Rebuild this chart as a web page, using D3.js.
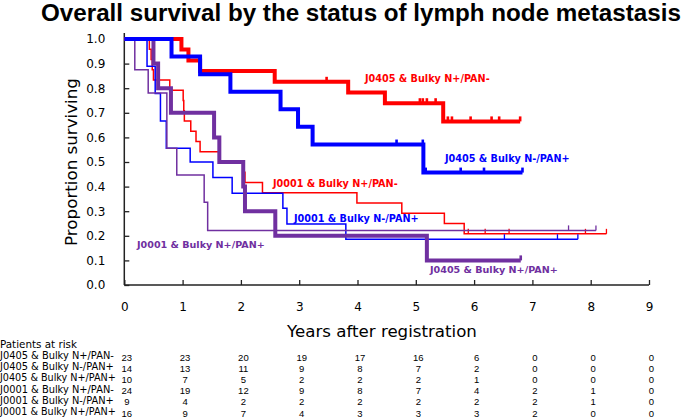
<!DOCTYPE html>
<html>
<head>
<meta charset="utf-8">
<script src="https://cdn.jsdelivr.net/npm/d3@7/dist/d3.min.js"></script>
<style>
  html, body { margin: 0; padding: 0; background: #fff; }
  svg { display: block; }
</style>
</head>
<body>
<svg id="chart" width="685" height="419"></svg>
<script>
// ---------------- DATA ----------------
const titleText = "Overall survival by the status of lymph node metastasis";
const yTicks = [0, 0.1, 0.2, 0.3, 0.4, 0.5, 0.6, 0.7, 0.8, 0.9, 1.0];
const xTicks = [0, 1, 2, 3, 4, 5, 6, 7, 8, 9];

// J0405 & Bulky N+/PAN- (red, thick)
const aTimes = [0.98, 1.10, 1.30, 2.58, 3.84, 4.47, 5.47];
const aSurv  = [0.957, 0.913, 0.870, 0.826, 0.783, 0.739, 0.665];
const aCens  = [3.47, 5.07, 5.12, 5.19, 5.34, 5.55, 5.62, 5.94, 6.30, 6.43, 6.79];
const aEnd   = 6.79;

// J0405 & Bulky N-/PAN+ (blue, thick)
const bTimes = [0.81, 1.30, 1.82, 2.68, 2.98, 3.23, 5.13];
const bSurv  = [0.929, 0.857, 0.786, 0.714, 0.643, 0.571, 0.457];
const bCens  = [4.67, 5.12, 5.17, 5.77, 6.17, 6.83];
const bEnd   = 6.83;

// J0405 & Bulky N+/PAN+ (purple, thick)
const cTimes = [0.50, 0.58, 0.80, 1.54, 1.63, 2.04, 2.07, 2.59, 5.19];
const cSurv  = [0.9, 0.8, 0.7, 0.6, 0.5, 0.4, 0.3, 0.2, 0.1];
const cCens  = [6.80];
const cEnd   = 6.80;

// J0001 & Bulky N+/PAN- (red, thin)
const dTimes = [0.43, 0.46, 0.48, 0.50, 0.78, 1.01, 1.02, 1.03, 1.14, 1.23, 1.30, 1.63, 2.05, 2.07, 2.37, 3.99, 4.76, 5.49, 5.83];
const dSurv  = [0.958, 0.917, 0.875, 0.833, 0.792, 0.750, 0.708, 0.667, 0.625, 0.583, 0.542, 0.500, 0.458, 0.417, 0.375, 0.333, 0.292, 0.250, 0.208];
const dCens  = [5.90, 6.19, 6.60, 7.91, 8.27];
const dEnd   = 8.27;

// J0001 & Bulky N-/PAN+ (blue, thin)
const eTimes = [0.39, 0.53, 0.62, 0.72, 1.13, 1.52, 1.85, 2.72, 2.79, 3.80];
const eSurv  = [0.889, 0.778, 0.667, 0.556, 0.500, 0.437, 0.373, 0.312, 0.248, 0.186];
const eCens  = [6.52, 7.43, 7.78];
const eEnd   = 7.78;

// J0001 & Bulky N+/PAN+ (purple, thin)
const fTimes = [0.18, 0.41, 0.73, 0.90, 1.37, 1.43];
const fSurv  = [0.875, 0.780, 0.556, 0.447, 0.336, 0.222];
const fCens  = [7.62, 8.09];
const fEnd   = 8.09;

const riskTitle = "Patients at risk";
const riskLabels = ["J0405 & Bulky N+/PAN-", "J0405 & Bulky N-/PAN+", "J0405 & Bulky N+/PAN+",
                    "J0001 & Bulky N+/PAN-", "J0001 & Bulky N-/PAN+", "J0001 & Bulky N+/PAN+"];
const riskA = [23, 23, 20, 19, 17, 16, 6, 0, 0, 0];
const riskB = [14, 13, 11, 9, 8, 7, 2, 0, 0, 0];
const riskC = [10, 7, 5, 2, 2, 2, 1, 0, 0, 0];
const riskD = [24, 19, 12, 9, 8, 7, 4, 2, 1, 0];
const riskE = [9, 4, 2, 2, 2, 2, 2, 2, 1, 0];
const riskF = [16, 9, 7, 4, 3, 3, 3, 2, 0, 0];

// ---------------- STYLE / LAYOUT ----------------
const RED = "#ff0000", BLUE = "#0000ff", PURPLE = "#7030a0";
const svg = d3.select("#chart");
const x = d3.scaleLinear().domain([0, 9]).range([124.3, 649]);
const y = d3.scaleLinear().domain([0, 1]).range([285, 39]);

function fit(sel, target) {
  const fs = parseFloat(sel.attr("font-size"));
  const w = sel.node().getComputedTextLength();
  if (w > 0) sel.attr("font-size", fs * target / w);
  return sel;
}

// title
fit(svg.append("text").attr("x", 41).attr("y", 21)
  .attr("font-family", "Liberation Sans, Arial, sans-serif").attr("font-weight", "bold")
  .attr("font-size", 21).attr("fill", "#000").text(titleText), 640);

// axes
const yAxis = d3.axisLeft(y).tickValues(yTicks).tickFormat(d3.format(".1f"))
  .tickSizeInner(-5).tickSizeOuter(0).tickPadding(19);
const gy = svg.append("g").attr("transform", `translate(${x(0)},0)`).call(yAxis);
gy.select(".domain").remove();
gy.selectAll("line").attr("stroke", "#222").attr("stroke-width", 1.3);
gy.selectAll("text").attr("font-family", "DejaVu Sans, Verdana, sans-serif").attr("font-size", 12).attr("fill", "#000");

const xAxis = d3.axisBottom(x).tickValues(xTicks).tickFormat(d3.format("d"))
  .tickSizeInner(-5).tickSizeOuter(0).tickPadding(17);
const gx = svg.append("g").attr("transform", `translate(0,${y(0)})`).call(xAxis);
gx.select(".domain").remove();
gx.selectAll("line").attr("stroke", "#222").attr("stroke-width", 1.3);
gx.selectAll("text").attr("font-family", "DejaVu Sans, Verdana, sans-serif").attr("font-size", 12).attr("fill", "#000");

svg.append("line").attr("x1", x(0)).attr("x2", x(0)).attr("y1", 33).attr("y2", y(0))
  .attr("stroke", "#222").attr("stroke-width", 1.5);
svg.append("line").attr("x1", x(0)).attr("x2", x(9)).attr("y1", y(0)).attr("y2", y(0))
  .attr("stroke", "#222").attr("stroke-width", 1.5);

// axis titles
fit(svg.append("text").attr("transform", "translate(77,162) rotate(-90)").attr("text-anchor", "middle")
  .attr("font-family", "DejaVu Sans, Verdana, sans-serif").attr("font-size", 16).attr("fill", "#000")
  .text("Proportion surviving"), 168);
fit(svg.append("text").attr("x", 382).attr("y", 337).attr("text-anchor", "middle")
  .attr("font-family", "DejaVu Sans, Verdana, sans-serif").attr("font-size", 16).attr("fill", "#000")
  .text("Years after registration"), 190);

// curves
const line = d3.line().x(d => x(d[0])).y(d => y(d[1])).curve(d3.curveStepAfter);
function survAt(times, surv, t) {
  let s = 1;
  for (let i = 0; i < times.length; i++) if (times[i] <= t) s = surv[i];
  return s;
}
function drawKM(times, surv, cens, end, color, w, tickH) {
  const pts = [[0, 1]];
  times.forEach((t, i) => pts.push([t, surv[i]]));
  pts.push([end, surv[surv.length - 1]]);
  const g = svg.append("g");
  g.append("path").attr("d", line(pts)).attr("fill", "none").attr("stroke", color)
    .attr("stroke-width", w).attr("stroke-linejoin", "miter").attr("stroke-linecap", "butt");
  g.selectAll("line").data(cens).join("line")
    .attr("x1", d => x(d)).attr("x2", d => x(d))
    .attr("y1", d => y(survAt(times, surv, d))).attr("y2", d => y(survAt(times, surv, d)) - tickH)
    .attr("stroke", color).attr("stroke-width", w > 2 ? 2.6 : 1.3);
}
drawKM(dTimes, dSurv, dCens, dEnd, RED, 1.5, 5);
drawKM(eTimes, eSurv, eCens, eEnd, BLUE, 1.5, 5);
drawKM(fTimes, fSurv, fCens, fEnd, PURPLE, 1.5, 5);
drawKM(cTimes, cSurv, cCens, cEnd, PURPLE, 4, 5);
drawKM(aTimes, aSurv, aCens, aEnd, RED, 4, 5);
drawKM(bTimes, bSurv, bCens, bEnd, BLUE, 4, 5);

// curve labels
const labelFont = "DejaVu Sans, Verdana, sans-serif";
const curveLabels = [
  {t: riskLabels[0], x: 365, y: 82, c: RED, w: 125},
  {t: riskLabels[1], x: 445, y: 162, c: BLUE, w: 125},
  {t: riskLabels[3], x: 273, y: 187, c: RED, w: 125},
  {t: riskLabels[4], x: 294, y: 222, c: BLUE, w: 125},
  {t: riskLabels[5], x: 137, y: 248, c: PURPLE, w: 128},
  {t: riskLabels[2], x: 430, y: 273, c: PURPLE, w: 128}
];
curveLabels.forEach(l => {
  fit(svg.append("text").attr("x", l.x).attr("y", l.y).attr("font-family", labelFont)
    .attr("font-weight", "bold").attr("font-size", 10).attr("fill", l.c).text(l.t), l.w);
});

// risk table
fit(svg.append("text").attr("x", 0).attr("y", 348).attr("font-family", labelFont)
  .attr("font-size", 10).attr("fill", "#000").text(riskTitle), 77);
const riskRows = [riskA, riskB, riskC, riskD, riskE, riskF];
riskRows.forEach((row, r) => {
  const yy = 359 + r * 11.2;
  fit(svg.append("text").attr("x", 0).attr("y", yy).attr("font-family", labelFont)
    .attr("font-size", 10).attr("fill", "#000").text(riskLabels[r]), r === 2 || r === 5 ? 116 : 114);
  svg.append("g").selectAll("text").data(row).join("text")
    .attr("x", (d, i) => x(xTicks[i]) + 2.5).attr("y", yy + 1.5).attr("text-anchor", "middle")
    .attr("font-family", "Liberation Sans, Arial, sans-serif").attr("font-size", 9.5).attr("fill", "#000")
    .text(d => d);
});
</script>
</body>
</html>
